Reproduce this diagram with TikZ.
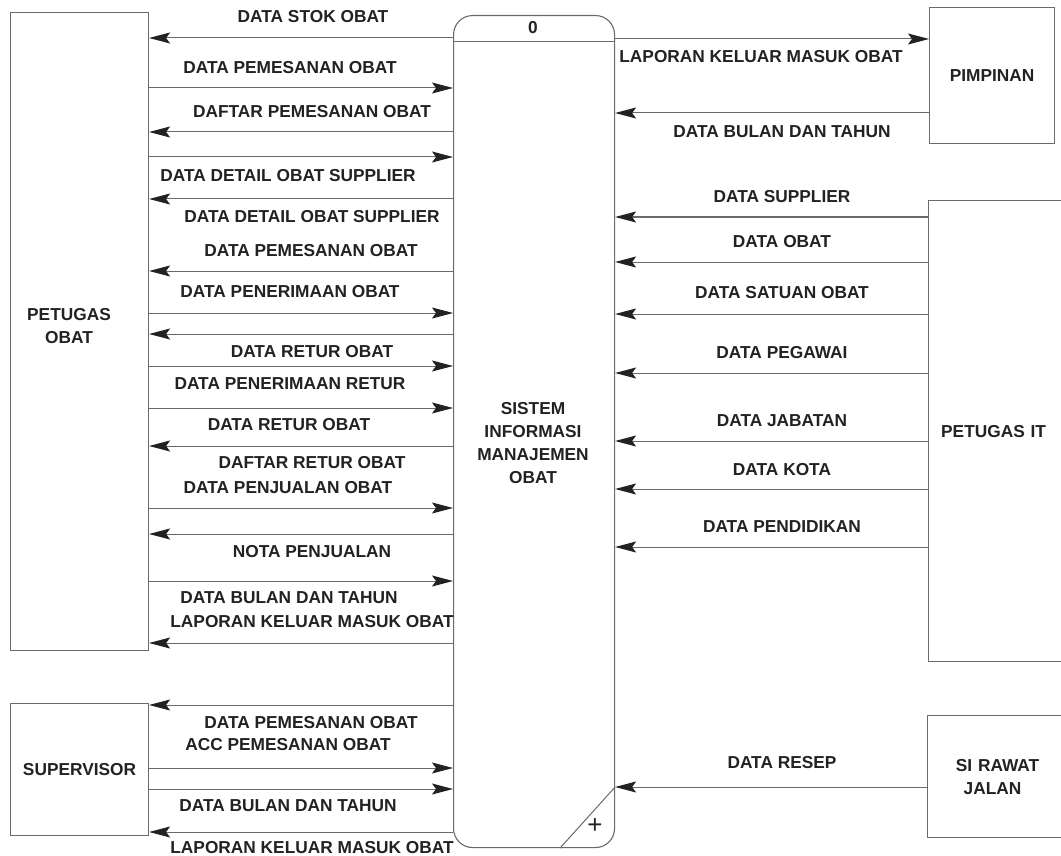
\documentclass[tikz,border=0pt]{standalone}
\usepackage{fontspec}
\setmainfont{Liberation Sans}
\usetikzlibrary{arrows.meta}
\definecolor{linegray}{HTML}{6A6A6A}
\definecolor{txt}{HTML}{222222}
\begin{document}
\begin{tikzpicture}[x=1pt,y=-1pt,
  box/.style={draw=linegray, line width=1.1pt, fill=white, inner sep=0pt, anchor=north west,
    font=\fontsize{17.3}{23}\selectfont\bfseries, text=txt, align=center},
  lbl/.style={font=\fontsize{17.3}{20}\selectfont\bfseries, text=txt, inner sep=0pt},
  flow/.style={draw=linegray, line width=1pt, -{Stealth[length=21pt,width=11pt,inset=4pt,color=txt]}}]
\useasboundingbox (0,0) rectangle (1061,856);
\fill[white] (0,0) rectangle (1061,856);

% entities
\node[box, minimum width=138pt, minimum height=638pt] (po) at (10,12) {};
\node[lbl, align=center, font=\fontsize{17.3}{23}\selectfont\bfseries] (pot) at (69,326) {PETUGAS\\OBAT};
\node[box, minimum width=138pt, minimum height=132pt] (sv) at (10,703) {SUPERVISOR};
\node[box, minimum width=125pt, minimum height=136pt] (pim) at (929,7) {PIMPINAN};
\node[box, minimum width=140pt, minimum height=461pt, text width=130pt] (pit) at (928,200) {PETUGAS IT\hspace*{10pt}};
\node[box, minimum width=140pt, minimum height=122pt, text width=130pt] (srj) at (927,715) {SI RAWAT\\JALAN\hspace*{10pt}};

% process
\node[draw=linegray, line width=1.1pt, fill=white, rounded corners=19pt, inner sep=0pt,
  minimum width=161pt, minimum height=832pt, anchor=north west] (proc) at (453,15) {};
\draw[linegray, line width=1pt] (proc.west|-0,42) -- (proc.east|-0,42);
\node[lbl] (pid) at (533,28) {0};
\draw[linegray, line width=1pt] (proc.south-|560,0) -- (proc.east|-0,787);
\node[font=\fontsize{26}{26}\selectfont, text=txt, inner sep=0pt] (plus) at (595,826) {+};
\node[lbl, align=center, font=\fontsize{17.3}{23}\selectfont\bfseries] (ptxt) at (533,443) {SISTEM\\INFORMASI\\MANAJEMEN\\OBAT};

% left flows: PETUGAS OBAT
\draw[flow] (proc.west|-0,38) -- (po.east|-0,38);
\node[lbl] (l1) at (313,17) {DATA STOK OBAT};
\draw[flow] (po.east|-0,88) -- (proc.west|-0,88);
\node[lbl] (l2) at (290,68) {DATA PEMESANAN OBAT};
\draw[flow] (proc.west|-0,132) -- (po.east|-0,132);
\node[lbl] (l3) at (312,112) {DAFTAR PEMESANAN OBAT};
\draw[flow] (po.east|-0,157) -- (proc.west|-0,157);
\node[lbl] (l4) at (288,176) {DATA DETAIL OBAT SUPPLIER};
\draw[flow] (proc.west|-0,199) -- (po.east|-0,199);
\node[lbl] (l5) at (312,217) {DATA DETAIL OBAT SUPPLIER};
\node[lbl] (l6) at (311,251) {DATA PEMESANAN OBAT};
\draw[flow] (proc.west|-0,271) -- (po.east|-0,271);
\node[lbl] (l7) at (290,292) {DATA PENERIMAAN OBAT};
\draw[flow] (po.east|-0,313) -- (proc.west|-0,313);
\draw[flow] (proc.west|-0,334) -- (po.east|-0,334);
\node[lbl] (l8) at (312,352) {DATA RETUR OBAT};
\draw[flow] (po.east|-0,366) -- (proc.west|-0,366);
\node[lbl] (l9) at (290,384) {DATA PENERIMAAN RETUR};
\draw[flow] (po.east|-0,408) -- (proc.west|-0,408);
\node[lbl] (l10) at (289,425) {DATA RETUR OBAT};
\draw[flow] (proc.west|-0,446) -- (po.east|-0,446);
\node[lbl] (l11) at (312,463) {DAFTAR RETUR OBAT};
\node[lbl] (l12) at (288,488) {DATA PENJUALAN OBAT};
\draw[flow] (po.east|-0,508) -- (proc.west|-0,508);
\draw[flow] (proc.west|-0,534) -- (po.east|-0,534);
\node[lbl] (l13) at (312,552) {NOTA PENJUALAN};
\draw[flow] (po.east|-0,581) -- (proc.west|-0,581);
\node[lbl] (l14) at (289,598) {DATA BULAN DAN TAHUN};
\node[lbl] (l15) at (312,622) {LAPORAN KELUAR MASUK OBAT};
\draw[flow] (proc.west|-0,643) -- (po.east|-0,643);

% left flows: SUPERVISOR
\draw[flow] (proc.west|-0,705) -- (sv.east|-0,705);
\node[lbl] (s1) at (311,723) {DATA PEMESANAN OBAT};
\node[lbl] (s2) at (288,745) {ACC PEMESANAN OBAT};
\draw[flow] (sv.east|-0,768) -- (proc.west|-0,768);
\draw[flow] (sv.east|-0,789) -- (proc.west|-0,789);
\node[lbl] (s3) at (288,806) {DATA BULAN DAN TAHUN};
\draw[flow] (proc.west|-0,832) -- (sv.east|-0,832);
\node[lbl] (s4) at (312,848) {LAPORAN KELUAR MASUK OBAT};

% right flows: PIMPINAN
\draw[flow] (proc.east|-0,39) -- (pim.west|-0,39);
\node[lbl] (r1) at (761,57) {LAPORAN KELUAR MASUK OBAT};
\draw[flow] (pim.west|-0,113) -- (proc.east|-0,113);
\node[lbl] (r2) at (782,132) {DATA BULAN DAN TAHUN};

% right flows: PETUGAS IT
\draw[flow] (pit.west|-0,217) -- (proc.east|-0,217);
\node[lbl] (r3) at (782,197) {DATA SUPPLIER};
\draw[flow] (pit.west|-0,262) -- (proc.east|-0,262);
\node[lbl] (r4) at (782,242) {DATA OBAT};
\draw[flow] (pit.west|-0,314) -- (proc.east|-0,314);
\node[lbl] (r5) at (782,293) {DATA SATUAN OBAT};
\draw[flow] (pit.west|-0,373) -- (proc.east|-0,373);
\node[lbl] (r6) at (782,353) {DATA PEGAWAI};
\draw[flow] (pit.west|-0,441) -- (proc.east|-0,441);
\node[lbl] (r7) at (782,421) {DATA JABATAN};
\draw[flow] (pit.west|-0,489) -- (proc.east|-0,489);
\node[lbl] (r8) at (782,470) {DATA KOTA};
\draw[flow] (pit.west|-0,547) -- (proc.east|-0,547);
\node[lbl] (r9) at (782,527) {DATA PENDIDIKAN};

% right flows: SI RAWAT JALAN
\draw[flow] (srj.west|-0,787) -- (proc.east|-0,787);
\node[lbl] (r10) at (782,763) {DATA RESEP};
\end{tikzpicture}
\end{document}
